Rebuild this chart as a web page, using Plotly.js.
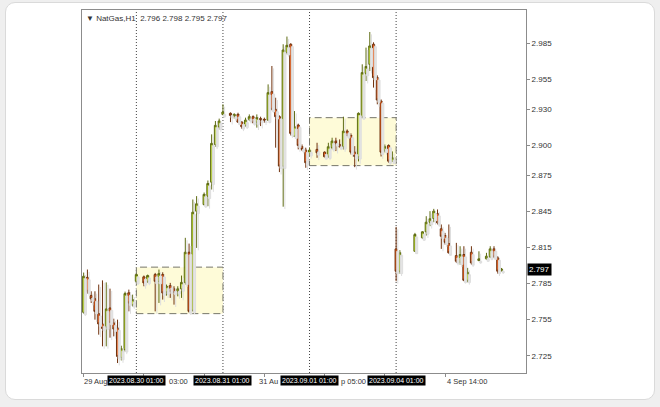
<!DOCTYPE html>
<html><head><meta charset="utf-8">
<script src="https://cdn.plot.ly/plotly-3.0.1.min.js"></script>
<style>
html,body{margin:0;padding:0;background:#efefef;width:660px;height:407px;overflow:hidden;}
#card{position:absolute;left:5px;top:2px;width:648px;height:396px;background:#fff;border:1px solid #dadada;border-radius:10px;}
#chart{position:absolute;left:0;top:0;width:660px;height:407px;}
</style></head><body>
<div id="card"></div><div id="chart"></div>
<script>
// ---- data (hourly bars, index 0 = 2023.08.30 01:00) ----
const symbolName = 'NatGas,H1';
const barIndex = [-14,-13,-12,-11,-10,-9,-8,-7,-6,-5,-4,-3,-2,-1,
  0,2,3,5,6,7,8,9,10,11,12,13,14,15,16,18,19,20,21,22,
  23,25,26,27,28,29,30,31,32,33,34,35,36,37,38,39,40,41,42,43,44,45,
  46,48,50,51,52,53,54,55,56,57,58,59,60,61,62,63,64,65,66,67,68,
  69,70,74,76,77,78,79,80,81,82,83,85,86,87,88,89,91,93,94,95,96,97];
const openP = [2.7611,2.7902,2.7750,2.7723,2.7600,2.7514,2.7489,2.7647,2.7522,2.7481,2.7236,2.7300,2.7773,2.7675,
  2.7869,2.7906,2.7869,2.7925,2.7869,2.7925,2.7781,2.7833,2.7806,2.7786,2.7806,2.7860,2.8111,2.7628,2.8453,2.8508,2.8578,2.8694,2.9008,2.9153,
  2.9258,2.9267,2.9239,2.9258,2.9194,2.9167,2.9217,2.9239,2.9194,2.9223,2.9217,2.9211,2.9447,2.9300,2.9239,2.8828,2.9773,2.9842,2.9078,2.9169,2.8989,2.8961,
  2.8933,2.8967,2.8944,2.8911,2.8981,2.9036,2.9008,2.8989,2.9119,2.9083,2.8944,2.8906,2.9239,2.9600,2.9675,2.9842,2.9564,2.9369,2.8961,2.9000,2.8869,
  2.8139,2.7953,2.8119,2.8231,2.8281,2.8361,2.8392,2.8433,2.8306,2.8250,2.8183,2.8083,2.8028,2.8092,2.7878,2.8111,2.8042,2.8056,2.8072,2.8139,2.8064,2.796];
const highP = [2.7942,2.7967,2.7786,2.7786,2.7842,2.7877,2.7860,2.7808,2.7558,2.7550,2.7333,2.7783,2.7800,2.7758,
  2.7933,2.7917,2.7925,2.7939,2.7967,2.7944,2.7842,2.7856,2.7828,2.7828,2.7917,2.8231,2.8183,2.8550,2.8578,2.8608,2.8708,2.9092,2.9203,2.9223,
  2.9342,2.9275,2.9267,2.9272,2.9203,2.9231,2.9258,2.9250,2.9258,2.9239,2.9231,2.9508,2.9661,2.9397,2.9250,2.9842,2.9906,2.9850,2.9286,2.9181,2.9008,2.8981,
  2.8981,2.9022,2.8950,2.9022,2.9064,2.9064,2.9050,2.9239,2.9133,2.9100,2.8994,2.9275,2.9675,2.9814,2.9944,2.9858,2.9583,2.9383,2.9008,2.9008,2.8950,
  2.8322,2.8128,2.8272,2.8286,2.8411,2.8453,2.8472,2.8467,2.8342,2.8272,2.8342,2.8189,2.8161,2.8161,2.7981,2.8161,2.8119,2.8106,2.8161,2.8161,2.8078,2.798];
const lowP = [2.7600,2.7767,2.7689,2.7550,2.7425,2.7328,2.7328,2.7400,2.7411,2.7189,2.7211,2.7283,2.7619,2.7660,
  2.7858,2.7828,2.7856,2.7619,2.7689,2.7717,2.7750,2.7731,2.7675,2.7744,2.7731,2.7842,2.7608,2.7617,2.8147,2.8500,2.8494,2.8633,2.8989,2.9133,
  2.9250,2.9194,2.9223,2.9188,2.9139,2.9156,2.9203,2.9183,2.9148,2.9161,2.9189,2.9203,2.9292,2.8981,2.8778,2.8490,2.9758,2.9083,2.9072,2.8967,2.8953,2.8814,
  2.8911,2.8897,2.8900,2.8897,2.8967,2.8953,2.8981,2.8967,2.9075,2.8925,2.8819,2.8867,2.9233,2.9536,2.9619,2.9481,2.9342,2.8908,2.8942,2.8856,2.8864,
  2.7870,2.7933,2.8117,2.8225,2.8250,2.8328,2.8361,2.8342,2.8139,2.8175,2.8100,2.8022,2.8008,2.7870,2.7861,2.8008,2.8036,2.8050,2.8064,2.8067,2.7933,2.795];
const closeP = [2.7911,2.7786,2.7723,2.7619,2.7514,2.7477,2.7639,2.7528,2.7472,2.7244,2.7308,2.7767,2.7689,2.7717,
  2.7925,2.7856,2.7917,2.7869,2.7933,2.7772,2.7828,2.7786,2.7778,2.7806,2.7860,2.8111,2.7619,2.8444,2.8514,2.8592,2.8683,2.9017,2.9167,2.9203,
  2.9278,2.9250,2.9258,2.9194,2.9156,2.9211,2.9239,2.9194,2.9231,2.9211,2.9211,2.9439,2.9300,2.9239,2.8828,2.9794,2.9833,2.9100,2.9156,2.9000,2.8967,2.8856,
  2.8961,2.8939,2.8906,2.8989,2.9036,2.9014,2.8989,2.9119,2.9083,2.8944,2.8908,2.9267,2.9606,2.9656,2.9828,2.9564,2.9378,2.8944,2.8989,2.8869,2.8897,
  2.7953,2.8106,2.8258,2.8281,2.8361,2.8389,2.8453,2.8356,2.8244,2.8194,2.8106,2.8036,2.8092,2.7878,2.7944,2.8022,2.8056,2.8078,2.8139,2.8072,2.7953,2.797];

const priceTicks = [2.985,2.955,2.930,2.900,2.875,2.845,2.815,2.785,2.755,2.725];
const timeTickIdx = [-14,2,18,34,50,66,82];
// visible (uncovered) parts of the time-axis labels, as shown
const timeLabelIdx = [-14.44,8.1,46,53.9,82];
const timeLabels = ['29 Aug','03:00','31 Au','p 05:00','4 Sep 14:00'];
const daySepIdx = [0,23,46,69];
const daySepLabels = ['2023.08.30 01:00','2023.08.31 01:00','2023.09.01 01:00','2023.09.04 01:00'];
const zoneStart = [0,46];
const zoneEnd = [23,69];
const zoneHigh = [2.7987,2.9231];
const zoneLow = [2.7600,2.8832];

// ---- drawing ----
const FONT = 'Liberation Sans, Arial, sans-serif';
const xRange = [-14.44,103.5], yRange = [2.7106,3.0127];
const shadowDx = 0.45, shadowDy = 0.002;   // drop-shadow offset (in bars / price units)
const shadow = {
  type:'candlestick', xaxis:'x2', yaxis:'y2',
  x: barIndex, open: openP, high: highP, low: lowP, close: closeP,
  increasing:{line:{color:'#dedede',width:1},fillcolor:'#e4e4e4'},
  decreasing:{line:{color:'#dedede',width:1},fillcolor:'#e4e4e4'},
  whiskerwidth:0, hoverinfo:'skip', showlegend:false
};
const candles = {
  type:'candlestick', x: barIndex, open: openP, high: highP, low: lowP, close: closeP,
  increasing:{line:{color:'#5f6c14',width:1},fillcolor:'#b6d126'},
  decreasing:{line:{color:'#70320e',width:1},fillcolor:'#ea5c18'},
  whiskerwidth:0, hoverinfo:'skip', showlegend:false
};

const shapes = [];
zoneStart.forEach((s,k)=>{
  shapes.push({type:'rect', xref:'x', yref:'y', x0:s, x1:zoneEnd[k], y0:zoneLow[k], y1:zoneHigh[k],
    fillcolor:'#fefbd8', line:{color:'#76766a', width:1, dash:'7px,4px'}, layer:'below'});
});
daySepIdx.forEach(d=>{
  shapes.push({type:'line', xref:'x', yref:'paper', x0:d, x1:d, y0:0, y1:1,
    line:{color:'#444', width:1, dash:'1px,2px'}, layer:'below'});
});

const annotations = [];
timeLabelIdx.forEach((t,k)=>{
  const right = timeLabels[k] === '31 Au';
  annotations.push({xref:'x', yref:'paper', x:t, y:0, xanchor: right ? 'right' : 'left', xshift: right ? -30 : 0,
    yanchor:'top', yshift:-2,
    showarrow:false, text:timeLabels[k], font:{family:FONT, size:7.5, color:'#333'}});
});
daySepIdx.forEach((d,k)=>{
  annotations.push({xref:'x', yref:'paper', x:d, y:0, xanchor:'center', yanchor:'top', yshift:-2,
    showarrow:false, text:daySepLabels[k], bgcolor:'#000', borderpad:1,
    font:{family:FONT, size:7, color:'#fff'}});
});
const n = closeP.length-1;
annotations.push({xref:'paper', yref:'y', x:1, y:closeP[n], xanchor:'left', yanchor:'middle', xshift:1,
  showarrow:false, text:closeP[n].toFixed(3), bgcolor:'#000', borderpad:1,
  font:{family:FONT, size:8, color:'#fff'}});
annotations.push({xref:'paper', yref:'paper', x:0, y:1, xanchor:'left', yanchor:'top', xshift:2, yshift:-2,
  showarrow:false, text:'▼ '+symbolName+'  '+[openP[n],highP[n],lowP[n],closeP[n]].map(v=>v.toFixed(3)).join(' '),
  font:{family:FONT, size:8, color:'#333'}});

const layout = {
  width:660, height:407, margin:{l:82, r:134, t:10, b:34},
  paper_bgcolor:'rgba(0,0,0,0)', plot_bgcolor:'#ffffff', showlegend:false,
  boxgap:0.2, hovermode:false,
  xaxis:{range:xRange, showgrid:false, zeroline:false, showline:true, mirror:true,
    linecolor:'#8c8c8c', linewidth:1, tickvals:timeTickIdx, ticks:'outside', ticklen:3,
    tickcolor:'#8c8c8c', showticklabels:false, rangeslider:{visible:false}, fixedrange:true},
  xaxis2:{overlaying:'x', range:[xRange[0]-shadowDx, xRange[1]-shadowDx], visible:false,
    rangeslider:{visible:false}, fixedrange:true},
  yaxis:{side:'right', range:yRange, tickvals:priceTicks,
    ticktext:priceTicks.map(v=>v.toFixed(3)), ticks:'outside', ticklen:3, tickcolor:'#8c8c8c',
    showgrid:false, zeroline:false, showline:true, mirror:true, linecolor:'#8c8c8c', linewidth:1,
    tickfont:{family:FONT, size:8, color:'#333'}, fixedrange:true},
  yaxis2:{overlaying:'y', range:[yRange[0]+shadowDy, yRange[1]+shadowDy], visible:false, fixedrange:true},
  shapes: shapes, annotations: annotations
};
Plotly.newPlot('chart', [shadow, candles], layout, {displayModeBar:false, staticPlot:true});
</script>
</body></html>
